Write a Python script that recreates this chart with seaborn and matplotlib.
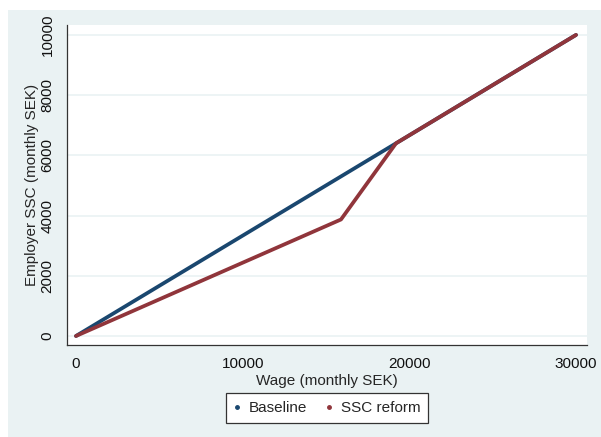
import matplotlib
matplotlib.use("Agg")
import matplotlib.pyplot as plt
from matplotlib.lines import Line2D
from matplotlib.patches import Rectangle
import pandas as pd
import seaborn as sns

# Kink points (monthly SEK)
wage_baseline = [0, 19200, 30000]
ssc_baseline = [0, 6400, 10000]
wage_reform = [0, 15900, 19200, 30000]
ssc_reform = [0, 3870, 6400, 10000]

series_names = ["Baseline", "SSC reform"]
colors = {"Baseline": "#1A476F", "SSC reform": "#90353B"}
bg_color = "#EAF2F3"

df = pd.concat([
    pd.DataFrame({"wage": wage_baseline, "ssc": ssc_baseline, "series": "Baseline"}),
    pd.DataFrame({"wage": wage_reform, "ssc": ssc_reform, "series": "SSC reform"}),
], ignore_index=True)

sns.set_style("white")
plt.rcParams["font.family"] = ["Liberation Sans", "DejaVu Sans"]

W, H = 601, 437
fig = plt.figure(figsize=(W / 100, H / 100), dpi=100)
fig.patch.set_facecolor("white")
fig.patches.append(Rectangle((8 / W, 0), (W - 8) / W, (H - 10) / H,
                             transform=fig.transFigure, facecolor=bg_color,
                             edgecolor="none", zorder=-10))

ax = fig.add_axes([67 / W, (H - 345) / H, (587 - 67) / W, (345 - 25) / H])
ax.set_facecolor("white")

sns.lineplot(data=df, x="wage", y="ssc", hue="series", palette=colors,
             hue_order=series_names, linewidth=2.7, legend=False, ax=ax,
             sort=False, estimator=None)

ax.set_xlim(-540, 30660)
ax.set_ylim(-300, 10330)
ax.set_xticks([0, 10000, 20000, 30000])
ax.set_yticks([0, 2000, 4000, 6000, 8000, 10000])
ax.set_yticklabels(["0", "2000", "4000", "6000", "8000", "10000"],
                   rotation=90, va="center")
ax.tick_params(axis="both", direction="out", length=5, width=0.8,
               color="#333333", labelsize=11, labelcolor="#111111", pad=4)
ax.yaxis.grid(True, color=bg_color, linewidth=1.2)
ax.set_axisbelow(True)

for side in ["top", "right"]:
    ax.spines[side].set_visible(False)
for side in ["left", "bottom"]:
    ax.spines[side].set_color("#333333")
    ax.spines[side].set_linewidth(0.9)

ax.set_xlabel("Wage (monthly SEK)", fontsize=11, labelpad=2)
ax.set_ylabel("Employer SSC (monthly SEK)", fontsize=11, labelpad=1)

handles = [Line2D([], [], marker="o", markersize=2.5, linestyle="none",
                  color=colors[name]) for name in series_names]
leg = fig.legend(handles, series_names, loc="center",
                 bbox_to_anchor=(327 / W, 1 - 408 / H), ncol=2,
                 fontsize=11, frameon=True, fancybox=False, framealpha=1,
                 handlelength=0.5, handletextpad=0.5, columnspacing=1.2,
                 borderpad=0.5, borderaxespad=0)
leg.get_frame().set_edgecolor("#333333")
leg.get_frame().set_linewidth(0.9)
leg.get_frame().set_facecolor("white")

fig.savefig("out.png", dpi=100, facecolor=fig.get_facecolor())
